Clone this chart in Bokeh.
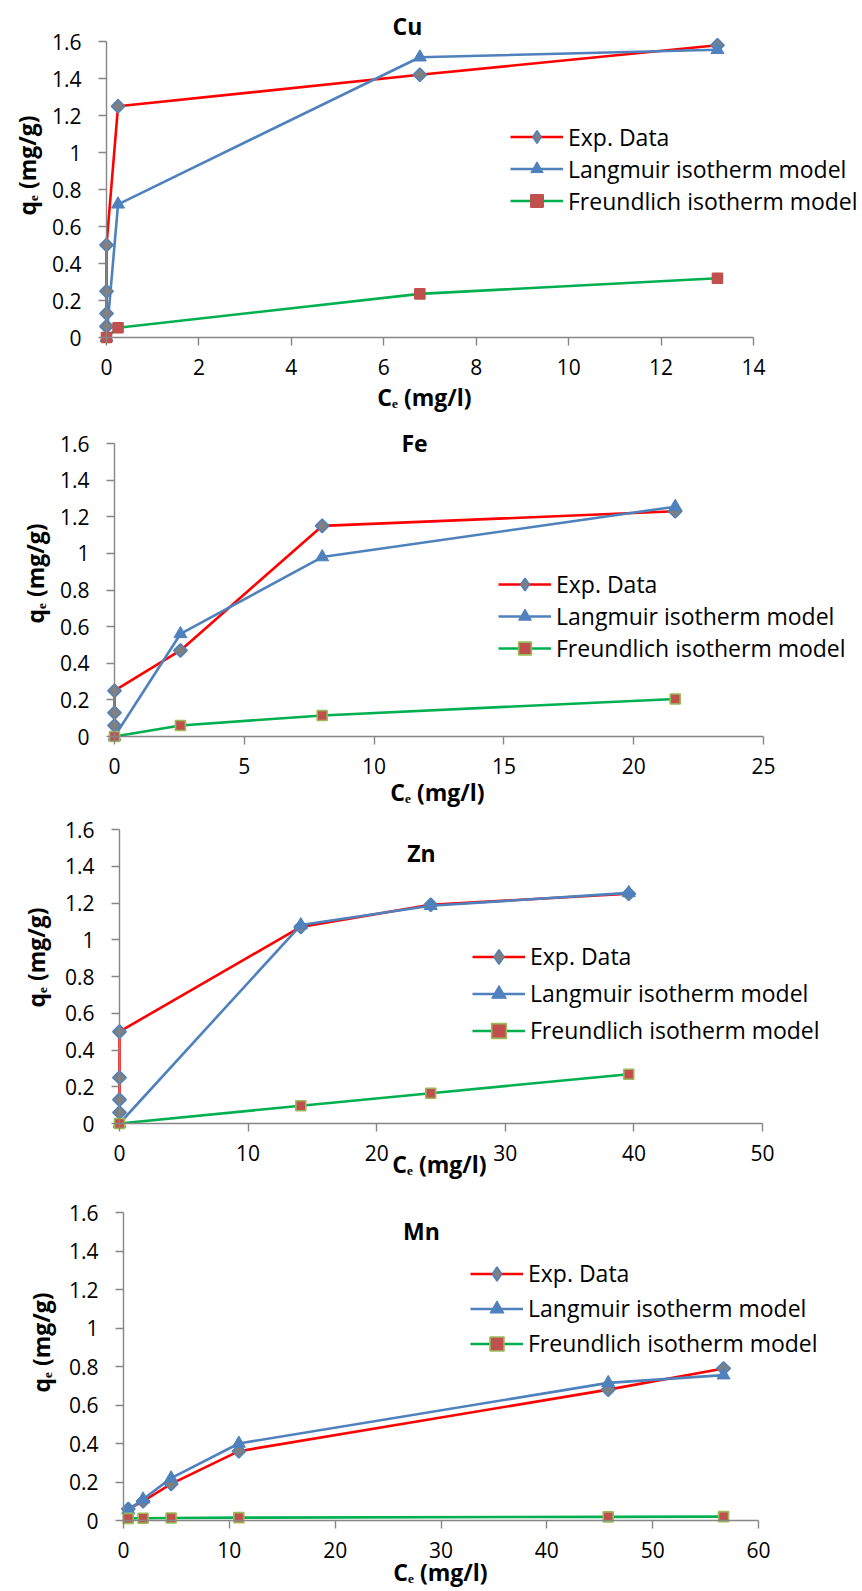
import math
from bokeh.plotting import figure
from bokeh.models import (Range1d, FixedTicker, NumeralTickFormatter, Label,
                          Legend, LegendItem)
from bokeh.layouts import column
from bokeh.embed import file_html
from bokeh.resources import INLINE

# ---------------- data ----------------
SERIES_NAMES = ["Exp. Data", "Langmuir isotherm model", "Freundlich isotherm model"]
Y_TICKS = [0, 0.2, 0.4, 0.6, 0.8, 1.0, 1.2, 1.4, 1.6]

cu_x_ticks = [0, 2, 4, 6, 8, 10, 12, 14]
cu_exp_ce = [0, 0, 0, 0, 0.25, 6.78, 13.22]
cu_exp_qe = [0.06, 0.13, 0.25, 0.50, 1.25, 1.42, 1.58]
cu_lang_ce = [0, 0.25, 6.78, 13.22]
cu_lang_qe = [0.0, 0.72, 1.515, 1.555]
cu_freu_ce = [0, 0.25, 6.78, 13.22]
cu_freu_qe = [0.0, 0.053, 0.236, 0.32]

fe_x_ticks = [0, 5, 10, 15, 20, 25]
fe_exp_ce = [0, 0, 0, 2.54, 8.0, 21.6]
fe_exp_qe = [0.06, 0.13, 0.25, 0.47, 1.15, 1.23]
fe_lang_ce = [0, 2.54, 8.0, 21.6]
fe_lang_qe = [0.0, 0.56, 0.98, 1.255]
fe_freu_ce = [0, 2.54, 8.0, 21.6]
fe_freu_qe = [0.0, 0.06, 0.115, 0.205]

zn_x_ticks = [0, 10, 20, 30, 40, 50]
zn_exp_ce = [0, 0, 0, 0, 14.1, 24.2, 39.6]
zn_exp_qe = [0.06, 0.13, 0.25, 0.50, 1.07, 1.19, 1.25]
zn_lang_ce = [0, 14.1, 24.2, 39.6]
zn_lang_qe = [0.0, 1.08, 1.185, 1.255]
zn_freu_ce = [0, 14.1, 24.2, 39.6]
zn_freu_qe = [0.0, 0.097, 0.165, 0.268]

mn_x_ticks = [0, 10, 20, 30, 40, 50, 60]
mn_exp_ce = [0.45, 1.85, 4.5, 10.9, 45.8, 56.7]
mn_exp_qe = [0.06, 0.10, 0.19, 0.36, 0.68, 0.79]
mn_lang_ce = [0.45, 1.85, 4.5, 10.9, 45.8, 56.7]
mn_lang_qe = [0.055, 0.11, 0.22, 0.40, 0.715, 0.755]
mn_freu_ce = [0.45, 1.85, 4.5, 10.9, 45.8, 56.7]
mn_freu_qe = [0.011, 0.012, 0.013, 0.015, 0.019, 0.02]

# ---------------- styles / layout ----------------
FONT = "Open Sans"
AXIS_C = "#868686"
RED = "#FF0000"
BLUE = "#4F81BD"
GREEN = "#00B050"
SQ_FILL = "#C0504D"
DIAM_FILL = "#7F7F7F"
PAGE_W = 862

# geometry in page pixels
GEO = {
    "Cu": dict(top=0, h=420, x0=106, xr=753, y0=337, yt=41, title=(407, 25),
               xlab=(424, 396), ylab=(26, 165), leg=(510, 138, 31.5), sq_line=SQ_FILL),
    "Fe": dict(top=420, h=390, x0=114, xr=763, y0=736, yt=443, title=(414, 442),
               xlab=(437, 791), ylab=(34, 573), leg=(498, 583, 32.5), sq_line="#9BBB59"),
    "Zn": dict(top=810, h=390, x0=119, xr=762, y0=1123, yt=829, title=(421, 852),
               xlab=(439, 1163), ylab=(35, 957), leg=(472, 955, 37.5), sq_line="#9BBB59"),
    "Mn": dict(top=1200, h=391, x0=123, xr=758, y0=1520, yt=1212, title=(421, 1230),
               xlab=(440, 1571), ylab=(40, 1342), leg=(470, 1272, 35.5), sq_line="#9BBB59"),
}


def make_panel(name, x_ticks, exp_ce, exp_qe, lang_ce, lang_qe, freu_ce, freu_qe):
    g = GEO[name]
    xmax = x_ticks[-1]
    ymax = Y_TICKS[-1]
    sx = (g["xr"] - g["x0"]) / xmax
    sy = (g["y0"] - g["yt"]) / ymax
    bottom_abs = g["top"] + g["h"]

    # the frame covers the whole figure; data space is mapped to page pixels
    p = figure(width=PAGE_W, height=g["h"], output_backend="svg", toolbar_location=None,
               x_range=Range1d(-g["x0"] / sx, (PAGE_W - g["x0"]) / sx),
               y_range=Range1d((g["y0"] - bottom_abs) / sy, (g["y0"] - g["top"]) / sy),
               min_border_left=0, min_border_right=0, min_border_top=0,
               min_border_bottom=0)
    p.outline_line_color = None
    p.xgrid.visible = False
    p.ygrid.visible = False
    p.background_fill_color = "white"
    p.border_fill_color = "white"

    xa = p.xaxis[0]
    xa.fixed_location = 0
    xa.bounds = (0, xmax)
    xa.ticker = FixedTicker(ticks=x_ticks)
    ya = p.yaxis[0]
    ya.fixed_location = 0
    ya.bounds = (0, ymax)
    ya.ticker = FixedTicker(ticks=Y_TICKS)
    ya.formatter = NumeralTickFormatter(format="0.[0]")
    for ax in (xa, ya):
        ax.axis_line_color = AXIS_C
        ax.axis_line_width = 1.4
        ax.major_tick_line_color = AXIS_C
        ax.major_tick_line_width = 1.4
        ax.major_tick_out = 8
        ax.major_tick_in = 0
        ax.minor_tick_out = 0
        ax.minor_tick_in = 0
        ax.major_label_text_font = FONT
        ax.major_label_text_font_size = "21px"
        ax.major_label_text_color = "#000000"
    xa.major_label_standoff = 13
    ya.major_label_standoff = 17

    r1 = p.line(exp_ce, exp_qe, line_color=RED, line_width=2.6)
    r2 = p.line(lang_ce, lang_qe, line_color=BLUE, line_width=2.6)
    r3 = p.line(freu_ce, freu_qe, line_color=GREEN, line_width=2.6)
    # narrow diamonds under the rotated squares: they give the legend its diamond symbol
    m1 = p.scatter(exp_ce, exp_qe, marker="diamond", size=11,
                   fill_color=DIAM_FILL, line_color=BLUE, line_width=1.6)
    p.scatter(exp_ce, exp_qe, marker="square", angle=math.pi / 4, size=9.5,
              fill_color=DIAM_FILL, line_color=BLUE, line_width=1.6)
    m2 = p.scatter(lang_ce, lang_qe, marker="triangle", size=13,
                   fill_color=BLUE, line_color=BLUE, line_width=1)
    m3 = p.scatter(freu_ce, freu_qe, marker="square", size=10,
                   fill_color=SQ_FILL, line_color=g["sq_line"], line_width=1.6)

    lx, row0, pitch = g["leg"]
    leg_bottom_abs = row0 - pitch / 2 + 3 * pitch
    legend = Legend(items=[LegendItem(label=SERIES_NAMES[0], renderers=[r1, m1]),
                           LegendItem(label=SERIES_NAMES[1], renderers=[r2, m2]),
                           LegendItem(label=SERIES_NAMES[2], renderers=[r3, m3])],
                    location=(lx, bottom_abs - leg_bottom_abs),
                    orientation="vertical", glyph_width=53, glyph_height=int(pitch),
                    label_height=int(pitch), spacing=int(round(pitch - int(pitch))),
                    padding=0, margin=0, label_standoff=5,
                    label_text_font=FONT, label_text_font_size="23px",
                    label_text_color="#000000",
                    border_line_alpha=0, background_fill_alpha=0)
    p.add_layout(legend)

    def to_data(ax_, ay_):
        return (ax_ - g["x0"]) / sx, (g["y0"] - ay_) / sy

    def lab(text, pos, angle=0.0):
        dx, dy = to_data(*pos)
        p.add_layout(Label(x=dx, y=dy, text=text, text_font=FONT, text_font_size="23px",
                           text_font_style="bold", text_align="center",
                           text_baseline="middle", angle=angle, text_color="#000000"))

    lab(name, g["title"])
    lab("C\u2091 (mg/l)", g["xlab"])
    lab("q\u2091 (mg/g)", g["ylab"], angle=math.pi / 2)
    return p


p1 = make_panel("Cu", cu_x_ticks, cu_exp_ce, cu_exp_qe, cu_lang_ce, cu_lang_qe, cu_freu_ce, cu_freu_qe)
p2 = make_panel("Fe", fe_x_ticks, fe_exp_ce, fe_exp_qe, fe_lang_ce, fe_lang_qe, fe_freu_ce, fe_freu_qe)
p3 = make_panel("Zn", zn_x_ticks, zn_exp_ce, zn_exp_qe, zn_lang_ce, zn_lang_qe, zn_freu_ce, zn_freu_qe)
p4 = make_panel("Mn", mn_x_ticks, mn_exp_ce, mn_exp_qe, mn_lang_ce, mn_lang_qe, mn_freu_ce, mn_freu_qe)

p = column(p1, p2, p3, p4, spacing=0)
open("out.html", "w").write(file_html(p, INLINE))
